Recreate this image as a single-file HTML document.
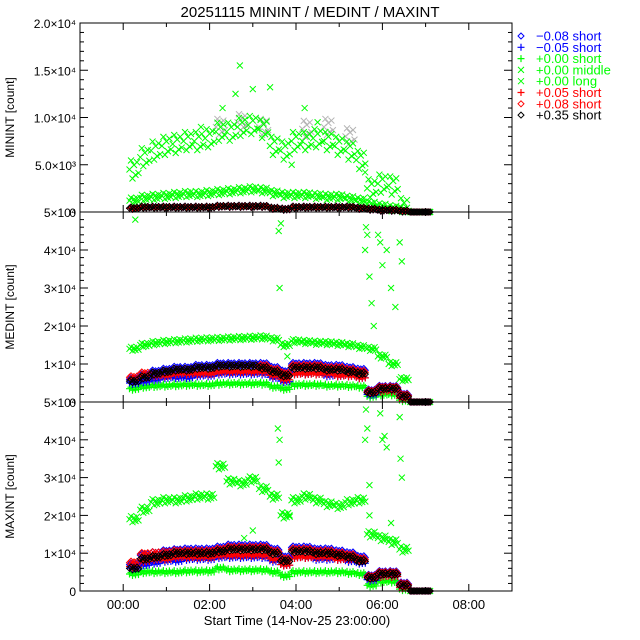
<!DOCTYPE html>
<html><head><meta charset="utf-8"><style>
body{margin:0;background:#fff}
svg{display:block;font-family:"Liberation Sans",sans-serif}
</style></head><body>
<svg id="c" width="640" height="640" viewBox="0 0 640 640" xmlns="http://www.w3.org/2000/svg">
<rect width="640" height="640" fill="#fff"/>
<text x="310" y="17" font-size="15" text-anchor="middle">20251115 MININT / MEDINT / MAXINT</text>
<text x="297" y="625" font-size="13" text-anchor="middle">Start Time (14-Nov-25 23:00:00)</text>
</svg>
<script>
// ---- data (values in thousands of counts) ----
const times = [0.25,0.5,0.75,1.0,1.25,1.5,1.75,2.0,2.25,2.5,2.75,3.0,3.25,3.5,3.75,4.0,4.25,4.5,4.75,5.0,5.25,5.5,5.75,6.0,6.25,6.5,6.75,7.0];
const xTickLabels = ["00:00","02:00","04:00","06:00","08:00"];
const xTickHours = [0,2,4,6,8];
const p1Ticks = ["0","5.0×10³","1.0×10⁴","1.5×10⁴","2.0×10⁴"];
const p1TickVals = [0,5,10,15,20];
const p23Ticks = ["0","1×10⁴","2×10⁴","3×10⁴","4×10⁴","5×10⁴"];
const p23TickVals = [0,10,20,30,40,50];

const p1GreenLong = [4.5,5.8,6.5,7.0,7.2,7.5,7.5,7.8,8.5,8.5,9.0,9.2,8.8,7.0,6.5,7.5,7.5,7.8,7.5,7.0,6.5,5.5,2.5,3.0,2.8,0.5,0,0];
const p1GreenMid = [1.2,1.5,1.6,1.7,1.8,1.9,1.9,2.0,2.1,2.2,2.3,2.4,2.3,2.0,1.8,1.8,1.8,1.7,1.6,1.6,1.4,1.2,0.8,0.6,0.4,0.2,0,0];
const p1Gray = [null,null,null,null,null,null,null,null,9.0,null,9.5,null,9.0,null,null,null,8.8,null,9.0,null,8.0,null,null,null,null,null,null,null];
const p1Short = [0.4,0.5,0.5,0.5,0.5,0.5,0.5,0.5,0.6,0.6,0.6,0.6,0.6,0.4,0.3,0.5,0.5,0.5,0.5,0.5,0.5,0.4,0.3,0.2,0.2,0.1,0,0];
const p1OutT = [2.7,3.0,3.4,2.6,4.2,2.3,3.9,4.5,1.8,5.6];
const p1OutV = [15.5,13,13.2,12.5,11,11,5,9.5,9,4.2];

const p2GreenLong = [14.0,15.0,15.5,15.8,16.0,16.2,16.4,16.5,16.6,16.7,16.8,16.9,17.0,16.5,15.0,16.0,15.8,15.6,15.5,15.3,15.0,14.5,14,12,10,6,0,0];
const p2OutT = [0.28,3.6,3.62,3.65,5.6,5.65,5.7,5.75,5.9,6.0,6.1,6.4,6.45,6.3,5.8,3.8,6.2,5.62,5.95];
const p2OutV = [48,45,30,47,40,44,33,26,44,36,40,42,37,25,20,12,30,46,42];
const p2BlueDia = [6,7,8,8.5,9,9,9.5,9.5,10,10,10,10,10,9,8,10,10,10,9.5,9.5,9,8.5,3,4,4,2,0,0];
const p2RedDia = [6.5,7.5,7.5,8,8.5,8.5,9,9,9.5,9.5,9.5,9.5,9.5,8.5,7.5,9.5,9.5,9.5,9,9,8.5,8,2.8,3.8,3.8,1.8,0,0];
const p2BlackDia = [5.5,6.5,7.5,8,8.5,8.5,9,9,9.5,9.5,9.5,9.5,9,8,7,9,9,9,8.5,8.5,8,7.5,2.5,3.5,3.5,1.5,0,0];
const p2BluePlus = [5,5.5,6,6.5,6.5,6.5,7,7,7.5,7.5,7.5,7.5,7.5,6.5,5.5,7.5,7.5,7.5,7,7,7,6.5,2,3,3,1,0,0];
const p2RedPlus = [6,6.5,7,7,7.5,7.5,7.5,7.5,8,8,8,8,8,7,6,7.5,7.5,7.5,7.5,7,7,6.5,2.5,3,3,1,0,0];
const p2GreenPlus = [3.5,4,4.2,4.3,4.4,4.5,4.5,4.5,4.8,4.8,4.8,4.8,4.8,4,3.5,4.5,4.5,4.5,4.3,4.3,4.2,4,1.5,2,2,0.5,0,0];

const p3GreenLong = [19,21.5,23.5,24,24,24.5,25,25,33,29,28.5,29.5,27,25,20,24,25,24,23,22.5,23.5,24,15,14,13,11,0,0];
const p3OutT = [3.58,3.6,3.62,3.85,5.62,5.6,5.65,5.95,6.0,6.05,6.4,6.42,6.45,5.7,6.1,3.0,2.8,5.7,6.2];
const p3OutV = [43,34,40,20,48,40,43,47,40,41,46,35,30,28,38,16,14,20,18];
const p3BlueDia = [7,9.5,10,10.5,10.8,11,11,11,11.5,12,12,12,12,11,9,11.5,11.5,11,11,10.5,10,9,4,5,5,2,0,0];
const p3RedDia = [7.5,9.8,10,10.2,10.5,10.5,10.5,10.5,11,11.5,11.5,11.5,11.5,10.5,8.5,11,11,10.5,10.5,10,9.5,8.5,3.8,4.8,4.8,1.8,0,0];
const p3BlackDia = [6,8.5,9,9.5,10,10,10,10,10.5,11,11,11,11,10,8,10.5,10.5,10,10,9.5,9,8,3.5,4.5,4.5,1.5,0,0];
const p3BluePlus = [6,7,7.5,8,8,8.5,8.5,8.5,9,9,9,9,9,8,7,9,9,8.5,8.5,8.5,8,7.5,3,4,4,1,0,0];
const p3RedPlus = [6.5,8,8.5,8.5,9,9,9,9,9.5,9.5,9.5,9.5,9.5,8.5,7,9,9,9,9,8.5,8.5,8,3.5,4,4,1,0,0];
const p3GreenPlus = [4.5,5,5,5,5,5.2,5.2,5.2,6,5.5,5.5,5.5,5.5,5,4,5,5,5,5,5,4.8,4.5,1.5,2.5,2.5,0.5,0,0];

const legendLabels = ["−0.08 short","−0.05 short","+0.00 short","+0.00 middle","+0.00 long","+0.05 short","+0.08 short","+0.35 short"];
const legendSymbols = ["dia","plus","plus","x","x","plus","dia","dia"];
const legendColors = ["#0000ff","#0000ff","#00ff00","#00ff00","#00ff00","#ff0000","#ff0000","#000000"];

// ---- layout ----
const svg = document.getElementById('c');
const NS = 'http://www.w3.org/2000/svg';
const X0 = 80, X1 = 512, TMIN = -1, TMAX = 9;
const xs = t => X0 + (t - TMIN) / (TMAX - TMIN) * (X1 - X0);
const panels = [
  {top:23,bot:212,max:20,name:'minint'},
  {top:212,bot:402,max:50,name:'medint'},
  {top:402,bot:591,max:50,name:'maxint'}
];
function ys(p, v){ return p.bot - v / p.max * (p.bot - p.top); }
function mk(tag, attrs, parent){ const e = document.createElementNS(NS, tag); for (const k in attrs) e.setAttribute(k, attrs[k]); (parent||svg).appendChild(e); return e; }

function marker(g, kind, x, y, color){
  let e;
  if (kind === 'x') e = mk('path', {d:`M${x-3},${y-3}L${x+3},${y+3}M${x-3},${y+3}L${x+3},${y-3}`, stroke:color, 'stroke-width':1, fill:'none'}, g);
  else if (kind === 'plus') e = mk('path', {d:`M${x-3.5},${y}L${x+3.5},${y}M${x},${y-3.5}L${x},${y+3.5}`, stroke:color, 'stroke-width':1.2, fill:'none'}, g);
  else e = mk('path', {d:`M${x},${y-3}L${x+3},${y}L${x},${y+3}L${x-3},${y}Z`, stroke:color, 'stroke-width':1, fill:'none'}, g);
  
  
}
const DX = [-4.5, -3, -1.5, 0, 1.5, 3, 4.5];
const DY = [0, -1, 1, -0.5, 0.6, -0.8, 0.4];
function series(p, vals, kind, color, name, spread){
  const s = spread || 2;
  const g = mk('g', {});
  
  
  vals.forEach((v, i) => {
    if (v === null) return;
    const x = xs(times[i]), y = ys(p, v);
    for (let k = 0; k < DX.length; k++) marker(g, kind, x + DX[k], Math.min(p.bot, y + (v > 0 ? DY[k] * s : 0)), color);
  });
}
function outliers(p, ts, vs, kind, color, name){
  const g = mk('g', {});
  
  
  ts.forEach((t, i) => marker(g, kind, xs(t), ys(p, vs[i]), color));
}

const [P1, P2, P3] = panels;
series(P1, p1Gray, 'x', '#b4b4b4', 'minint-gray-series', 8);
series(P1, p1GreenLong, 'x', '#00ff00', 'minint-long-series', 9);
outliers(P1, p1OutT, p1OutV, 'x', '#00ff00', 'minint-outliers');
series(P1, p1GreenMid, 'x', '#00ff00', 'minint-middle-series', 3);
series(P1, p1Short, 'plus', '#0000ff', 'minint-short-blue', 1);
series(P1, p1Short, 'plus', '#ff0000', 'minint-short-red', 1);
series(P1, p1Short, 'dia', '#000000', 'minint-short-black', 1);

series(P2, p2GreenLong, 'x', '#00ff00', 'medint-long-series', 2);
outliers(P2, p2OutT, p2OutV, 'x', '#00ff00', 'medint-outliers');
series(P2, p2GreenPlus, 'plus', '#00ff00', 'medint-green-plus', 1.5);
series(P2, p2BluePlus, 'plus', '#0000ff', 'medint-blue-plus', 1.5);
series(P2, p2RedPlus, 'plus', '#ff0000', 'medint-red-plus', 1.5);
series(P2, p2BlueDia, 'dia', '#0000ff', 'medint-blue-diamond', 1.5);
series(P2, p2RedDia, 'dia', '#ff0000', 'medint-red-diamond', 1.5);
series(P2, p2BlackDia, 'dia', '#000000', 'medint-black-diamond', 1.5);

series(P3, p3GreenLong, 'x', '#00ff00', 'maxint-long-series', 3);
outliers(P3, p3OutT, p3OutV, 'x', '#00ff00', 'maxint-outliers');
series(P3, p3GreenPlus, 'plus', '#00ff00', 'maxint-green-plus', 1.5);
series(P3, p3BluePlus, 'plus', '#0000ff', 'maxint-blue-plus', 1.5);
series(P3, p3RedPlus, 'plus', '#ff0000', 'maxint-red-plus', 1.5);
series(P3, p3BlueDia, 'dia', '#0000ff', 'maxint-blue-diamond', 1.5);
series(P3, p3RedDia, 'dia', '#ff0000', 'maxint-red-diamond', 1.5);
series(P3, p3BlackDia, 'dia', '#000000', 'maxint-black-diamond', 1.5);

// axes
panels.forEach((p, pi) => {
  const fr = mk('rect', {x:X0, y:p.top, width:X1-X0, height:p.bot-p.top, fill:'none', stroke:'#000', 'stroke-width':1});
  
  
  for (let h = -1; h <= 9; h++) {
    const x = xs(h), L = (h % 2 === 0) ? 7 : 4;
    mk('line', {x1:x, x2:x, y1:p.bot, y2:p.bot-L, stroke:'#000'});
    mk('line', {x1:x, x2:x, y1:p.top, y2:p.top+L, stroke:'#000'});
  }
  const tv = pi === 0 ? p1TickVals : p23TickVals, tl = pi === 0 ? p1Ticks : p23Ticks;
  const step = tv[1] - tv[0], minor = 5;
  for (let v = 0; v <= p.max + 1e-9; v += step / minor) {
    const y = ys(p, v), isMaj = Math.abs(v / step - Math.round(v / step)) < 1e-6, L = isMaj ? 8 : 4;
    mk('line', {x1:X0, x2:X0+L, y1:y, y2:y, stroke:'#000'});
    mk('line', {x1:X1, x2:X1-L, y1:y, y2:y, stroke:'#000'});
  }
  tv.forEach((v, i) => {
    const t = mk('text', {x:X0-4, y:ys(p, v)+5, 'font-size':12, 'text-anchor':'end', fill:'#000'});
    t.textContent = tl[i];
    
    
  });
  const yt = mk('text', {x:0, y:0, 'font-size':12, 'text-anchor':'middle', transform:`translate(14,${(p.top+p.bot)/2}) rotate(-90)`});
  yt.textContent = ['MININT','MEDINT','MAXINT'][pi] + ' [count]';
  
  
});
xTickHours.forEach((h, i) => {
  const t = mk('text', {x:xs(h), y:609, 'font-size':13, 'text-anchor':'middle'});
  t.textContent = xTickLabels[i];
  
  
});

// legend
legendLabels.forEach((lab, i) => {
  const y = 36 + i * 11.3;
  const g = mk('g', {});
  
  
  marker(g, legendSymbols[i], 521, y, legendColors[i]);
  const t = mk('text', {x:536, y:y+4.5, 'font-size':13, fill:legendColors[i]}, g);
  t.textContent = lab;
});
</script>
</body></html>
